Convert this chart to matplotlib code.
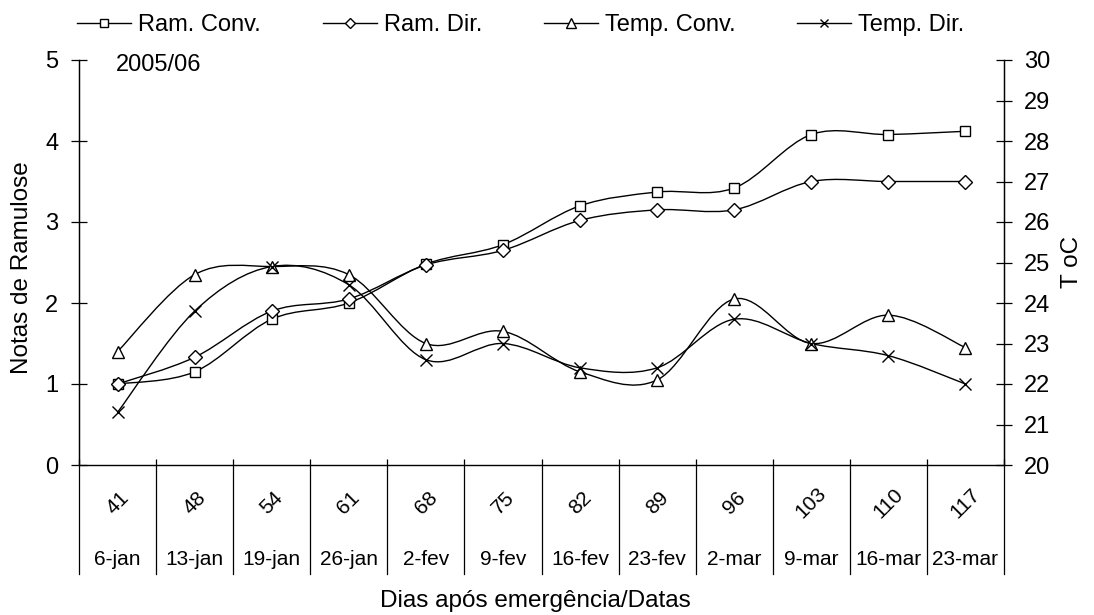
import matplotlib
matplotlib.use("Agg")
import matplotlib.pyplot as plt
import matplotlib.transforms as mtransforms
from matplotlib.path import Path
from matplotlib.patches import PathPatch
from matplotlib.lines import Line2D
import numpy as np

plt.rcParams["font.family"] = ["Liberation Sans", "DejaVu Sans"]

dias = ["41", "48", "54", "61", "68", "75", "82", "89", "96", "103", "110", "117"]
datas = ["6-jan", "13-jan", "19-jan", "26-jan", "2-fev", "9-fev", "16-fev",
         "23-fev", "2-mar", "9-mar", "16-mar", "23-mar"]

ram_conv = [1.0, 1.15, 1.8, 2.0, 2.48, 2.72, 3.2, 3.37, 3.42, 4.08, 4.08, 4.12]
ram_dir = [1.0, 1.33, 1.9, 2.05, 2.47, 2.65, 3.02, 3.15, 3.15, 3.5, 3.5, 3.5]
temp_conv = [22.8, 24.7, 24.9, 24.7, 23.0, 23.3, 22.3, 22.1, 24.1, 23.0, 23.7, 22.9]
temp_dir = [21.3, 23.8, 24.9, 24.45, 22.6, 23.0, 22.4, 22.4, 23.6, 23.0, 22.7, 22.0]


def smooth_path(xs, ys):
    # Excel-like smoothed line (Catmull-Rom as cubic Bezier segments)
    n = len(xs)
    verts = [(xs[0], ys[0])]
    codes = [Path.MOVETO]
    for i in range(n - 1):
        x0, y0 = (xs[i - 1], ys[i - 1]) if i > 0 else (xs[i], ys[i])
        x3, y3 = (xs[i + 2], ys[i + 2]) if i + 2 < n else (xs[i + 1], ys[i + 1])
        c1 = (xs[i] + (xs[i + 1] - x0) / 6, ys[i] + (ys[i + 1] - y0) / 6)
        c2 = (xs[i + 1] - (x3 - xs[i]) / 6, ys[i + 1] - (y3 - ys[i]) / 6)
        verts += [c1, c2, (xs[i + 1], ys[i + 1])]
        codes += [Path.CURVE4] * 3
    return Path(verts, codes)


W, H = 1094, 615
fig = plt.figure(figsize=(W / 100, H / 100), dpi=100)
x_left, x_right, y_top, y_bot = 79, 1004, 60, 465
ax = fig.add_axes([x_left / W, 1 - y_bot / H, (x_right - x_left) / W, (y_bot - y_top) / H])
ax2 = ax.twinx()

x = np.arange(len(dias))
ax.set_xlim(-0.5, len(dias) - 0.5)
ax.set_ylim(0, 5)
ax2.set_ylim(20, 30)

styles = [
    (ax, ram_conv, "s", 7.2, "Ram. Conv."),
    (ax, ram_dir, "D", 6.8, "Ram. Dir."),
    (ax2, temp_conv, "^", 8.5, "Temp. Conv."),
    (ax2, temp_dir, "x", 8.0, "Temp. Dir."),
]
handles = []
for a, vals, mk, ms, lab in styles:
    a.add_patch(PathPatch(smooth_path(x, vals), fill=False, edgecolor="black",
                          linewidth=1.0, zorder=2))
    a.plot(x, vals, linestyle="none", marker=mk, markersize=ms,
           markerfacecolor="white", markeredgecolor="black",
           markeredgewidth=1.0, zorder=3, clip_on=False)
    handles.append(Line2D([], [], color="black", linewidth=1.0, marker=mk,
                          markersize=ms * 0.8, markerfacecolor="white",
                          markeredgecolor="black", markeredgewidth=1.0, label=lab))

for a in (ax, ax2):
    a.spines["top"].set_visible(False)
    for s in a.spines.values():
        s.set_color("black")
        s.set_linewidth(0.9)

ax.set_yticks(range(0, 6))
ax.tick_params(axis="y", direction="inout", length=11, width=0.9, pad=9.5, labelsize=17)
ax2.set_yticks(range(20, 31))
ax2.tick_params(axis="y", direction="inout", length=11, width=0.9, pad=9, labelsize=17)

# category boundaries
bounds = np.arange(-0.5, len(dias), 1.0)
ax.set_xticks(bounds)
ax.set_xticklabels([])
ax.tick_params(axis="x", direction="in", length=4.3, width=0.9)
ax.spines["bottom"].set_color("#555555")

trans = mtransforms.blended_transform_factory(ax.transData, ax.transAxes)
ax_h = y_bot - y_top
sep_y = -(574 - y_bot) / ax_h
for b in bounds:
    ax.plot([b, b], [0, sep_y], color="black", linewidth=0.9, transform=trans,
            clip_on=False)
for xi, d, dt in zip(x, dias, datas):
    ax.text(xi, -(503 - y_bot) / ax_h, d, transform=trans, rotation=45,
            ha="center", va="center", fontsize=15, rotation_mode="anchor")
    ax.text(xi, -(565 - y_bot) / ax_h, dt, transform=trans,
            ha="center", va="baseline", fontsize=15)

ax.text((116 - x_left) / (x_right - x_left), (y_bot - 65) / ax_h, "2005/06",
        transform=ax.transAxes, ha="left", va="center", fontsize=17)

fig.text(22 / W, 1 - 268 / H, "Notas de Ramulose", rotation=90,
         ha="center", va="center", fontsize=17.5)
fig.text(1072 / W, 1 - 262 / H, "T oC", rotation=90,
         ha="center", va="center", fontsize=17.5)
fig.text(535 / W, 1 - 606.7 / H, "Dias após emergência/Datas",
         ha="center", va="baseline", fontsize=17.5)

fig.legend(handles=handles, loc="center left", bbox_to_anchor=(77 / W, 1 - 25 / H),
           ncol=4, frameon=False, fontsize=17, handlelength=2.3,
           handletextpad=0.3, columnspacing=2.6, borderpad=0, borderaxespad=0)

fig.savefig("out.png", dpi=100)
